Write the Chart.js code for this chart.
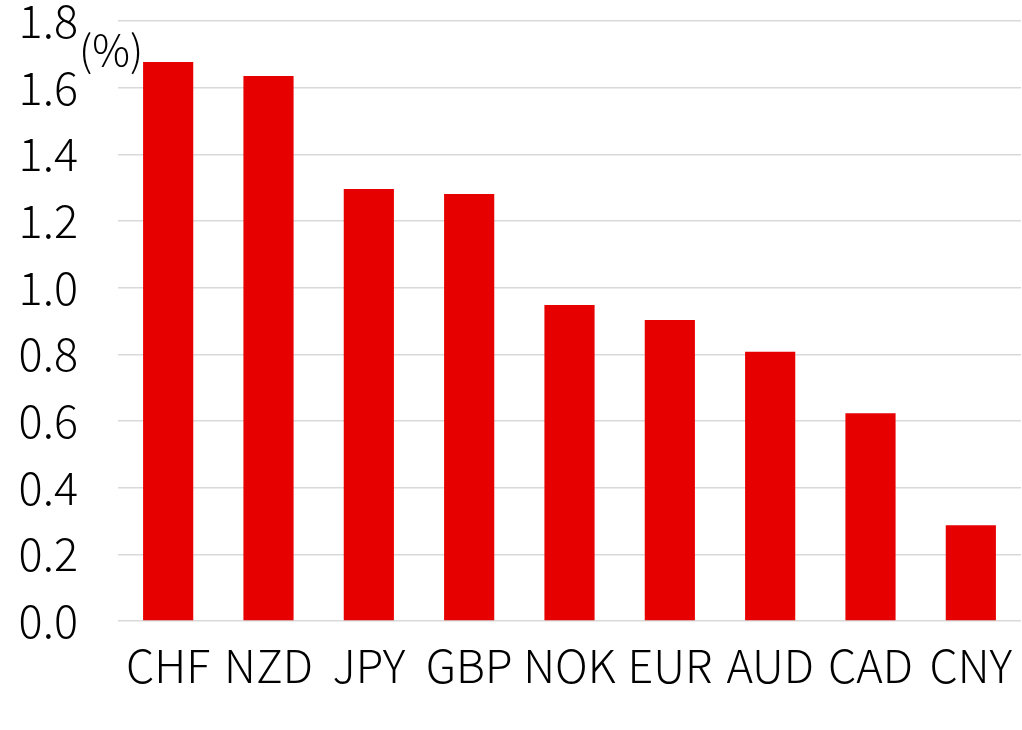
<!DOCTYPE html>
<html>
<head>
<meta charset="utf-8">
<script src="https://cdn.jsdelivr.net/npm/chart.js@4/dist/chart.umd.min.js"></script>
<style>
  html, body { margin: 0; padding: 0; background: #fff; }
  #wrap { width: 1022px; height: 730px; position: relative; }
  #unit { position: absolute; left: 79px; top: 27px; font-family: 'Noto Sans CJK JP', sans-serif; font-weight: 300; font-size: 42px; color: #000; line-height: 1; }
</style>
</head>
<body>
<div id="wrap">
  <canvas id="myChart" width="1022" height="730"></canvas>
  <div id="unit">(%)</div>
</div>
<script>
// 通貨ごとの値 (%)
const currencies = ['CHF', 'NZD', 'JPY', 'GBP', 'NOK', 'EUR', 'AUD', 'CAD', 'CNY'];
const values = [1.677, 1.635, 1.296, 1.281, 0.948, 0.903, 0.808, 0.623, 0.287];
const yMin = 0;
const yMax = 1.8;
const yStep = 0.2;

const fontFamily = "'Noto Sans CJK JP', sans-serif";

const ctx = document.getElementById('myChart').getContext('2d');
new Chart(ctx, {
    type: 'bar',
    data: {
        labels: currencies,
        datasets: [{
            data: values,
            backgroundColor: '#e60000',
            borderWidth: 0,
            barPercentage: 0.5,
            categoryPercentage: 1.0
        }]
    },
    options: {
        responsive: false,
        animation: false,
        layout: { padding: { top: 21, right: 1, bottom: 0, left: 0 } },
        plugins: {
            legend: { display: false },
            tooltip: { enabled: false }
        },
        scales: {
            x: {
                grid: { display: false },
                border: { display: false },
                ticks: {
                    color: '#000',
                    padding: 10,
                    font: { family: fontFamily, size: 45, weight: 300 }
                },
                afterFit: (scale) => {
                    scale.height = 109;
                    scale.paddingLeft = 0;
                    scale.paddingRight = 0;
                }
            },
            y: {
                min: yMin,
                max: yMax,
                grid: { color: '#d9d9d9', lineWidth: 1.5, drawTicks: false },
                border: { display: false },
                ticks: {
                    stepSize: yStep,
                    color: '#000',
                    padding: 40,
                    font: { family: fontFamily, size: 45, weight: 300 },
                    callback: (v) => Number(v).toFixed(1)
                },
                afterFit: (scale) => {
                    scale.width = 118;
                    scale.paddingTop = 0;
                    scale.paddingBottom = 0;
                }
            }
        }
    }
});
</script>
</body>
</html>
